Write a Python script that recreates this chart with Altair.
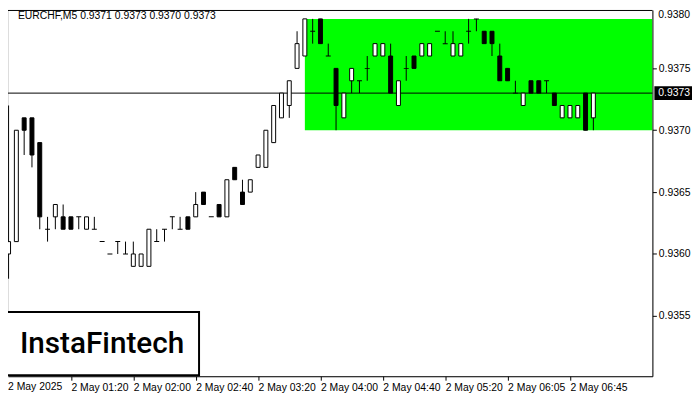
import json
import altair as alt
import pandas as pd

# ---------------- data ----------------
header_text = "EURCHF,M5  0.9371 0.9373 0.9370 0.9373"
logo_text = "InstaFintech"

opens = [0.9360, 0.9361, 0.9371, 0.9371, 0.9369, 0.9362, 0.9363, 0.9363, 0.9363, 0.9363,
         0.9362, 0.9362, 0.9361, 0.9360, 0.9361, 0.9360, 0.9359, 0.9359, 0.9359, 0.9361,
         0.9362, 0.9363, 0.9362, 0.9363, 0.9363, 0.9365, 0.9363, 0.9364, 0.9363, 0.9367,
         0.9365, 0.9365, 0.9367, 0.9367, 0.9369, 0.9371, 0.9372, 0.9375, 0.9376, 0.9378,
         0.9379, 0.9376, 0.9375, 0.9371, 0.9374, 0.9374, 0.9375, 0.9376, 0.9376, 0.9376,
         0.9372, 0.9375, 0.9376, 0.9376, 0.9376, 0.9378, 0.9377, 0.9376, 0.9376, 0.9378,
         0.9379, 0.9378, 0.9378, 0.9376, 0.9375, 0.9373, 0.9372, 0.9374, 0.9374, 0.9374,
         0.9373, 0.9371, 0.9371, 0.9371, 0.9373, 0.9371]
highs = [0.9372, 0.9370, 0.9371, 0.9371, 0.9369, 0.9363, 0.9364, 0.9364, 0.9363, 0.9363,
         0.9363, 0.9363, 0.9361, 0.9360, 0.9361, 0.9361, 0.9361, 0.9360, 0.9362, 0.9362,
         0.9362, 0.9363, 0.9363, 0.9363, 0.9365, 0.9365, 0.9363, 0.9364, 0.9366, 0.9367,
         0.9366, 0.9366, 0.9368, 0.9370, 0.9372, 0.9373, 0.9374, 0.9378, 0.9379, 0.9379,
         0.9379, 0.9377, 0.9375, 0.9373, 0.9375, 0.9374, 0.9376, 0.9377, 0.9377, 0.9377,
         0.9374, 0.9376, 0.9376, 0.9377, 0.9377, 0.9378, 0.9378, 0.9378, 0.9377, 0.9379,
         0.9379, 0.9378, 0.9378, 0.9377, 0.9375, 0.9374, 0.9373, 0.9374, 0.9374, 0.9374,
         0.9373, 0.9372, 0.9372, 0.9372, 0.9373, 0.9373]
lows = [0.9358, 0.9361, 0.9368, 0.9367, 0.9362, 0.9361, 0.9362, 0.9362, 0.9362, 0.9362,
        0.9362, 0.9362, 0.9361, 0.9360, 0.9360, 0.9360, 0.9359, 0.9359, 0.9359, 0.9361,
        0.9361, 0.9362, 0.9362, 0.9362, 0.9363, 0.9364, 0.9363, 0.9363, 0.9363, 0.9366,
        0.9364, 0.9365, 0.9367, 0.9367, 0.9369, 0.9371, 0.9371, 0.9375, 0.9376, 0.9377,
        0.9377, 0.9376, 0.9370, 0.9371, 0.9373, 0.9373, 0.9374, 0.9376, 0.9376, 0.9373,
        0.9372, 0.9374, 0.9375, 0.9376, 0.9376, 0.9378, 0.9377, 0.9376, 0.9376, 0.9377,
        0.9378, 0.9377, 0.9376, 0.9374, 0.9374, 0.9373, 0.9372, 0.9373, 0.9373, 0.9373,
        0.9372, 0.9371, 0.9371, 0.9371, 0.9370, 0.9370]
closes = [0.9361, 0.9370, 0.9370, 0.9368, 0.9363, 0.9362, 0.9364, 0.9362, 0.9362, 0.9363,
          0.9363, 0.9362, 0.9361, 0.9360, 0.9361, 0.9360, 0.9360, 0.9360, 0.9362, 0.9361,
          0.9362, 0.9363, 0.9362, 0.9362, 0.9364, 0.9364, 0.9363, 0.9363, 0.9366, 0.9366,
          0.9364, 0.9366, 0.9368, 0.9370, 0.9372, 0.9373, 0.9374, 0.9377, 0.9379, 0.9378,
          0.9377, 0.9376, 0.9372, 0.9373, 0.9375, 0.9374, 0.9375, 0.9377, 0.9377, 0.9373,
          0.9374, 0.9375, 0.9375, 0.9377, 0.9377, 0.9378, 0.9377, 0.9377, 0.9377, 0.9378,
          0.9379, 0.9377, 0.9377, 0.9374, 0.9374, 0.9373, 0.9373, 0.9373, 0.9373, 0.9374,
          0.9372, 0.9372, 0.9372, 0.9372, 0.9370, 0.9373]

tick_bars = [8, 16, 24, 32, 40, 48, 56, 64, 72]
tick_labels = ["2 May 01:20", "2 May 02:00", "2 May 02:40", "2 May 03:20", "2 May 04:00",
               "2 May 04:40", "2 May 05:20", "2 May 06:05", "2 May 06:45"]
first_label = "2 May 2025"
price_ticks = [0.9355, 0.9360, 0.9365, 0.9370, 0.9375]
top_price_tick = [0.9380]

zone_start_bar = [38]
zone_low = [0.9370]
zone_high = [0.9379]
last_price = [0.9373]

# ---------------- layout ----------------
W, H = 651, 370
X_DOM = [0.5625, 81.9375]
Y_DOM = [0.935012, 0.937972]
FONT = "Liberation Sans"

n = len(opens)
df = pd.DataFrame({"idx": list(range(n)), "o": opens, "h": highs, "l": lows, "c": closes})
df["kind"] = ["up" if round(c - o, 6) > 0 else ("down" if round(c - o, 6) < 0 else "doji")
              for o, c in zip(opens, closes)]

xs = alt.Scale(domain=X_DOM, nice=False, zero=False)
ys = alt.Scale(domain=Y_DOM, nice=False, zero=False)

label_arr = json.dumps([""] + tick_labels)
x_axis = alt.Axis(values=tick_bars, labelExpr=f"{label_arr}[round(datum.value/8)]",
                  orient="bottom", grid=False, title=None, domainColor="black", domainWidth=1,
                  tickColor="black", tickSize=4, labelAlign="left", labelBaseline="top",
                  labelPadding=2, labelFont=FONT, labelFontSize=10.5, labelColor="black",
                  labelOverlap=False, labelFlush=False, labelBound=False)
y_axis = alt.Axis(values=price_ticks, format=".4f", orient="right", grid=False, title=None,
                  domainColor="black", domainWidth=1, tickColor="black", tickSize=4,
                  labelPadding=2, labelFont=FONT, labelFontSize=10.5, labelColor="black",
                  labelOverlap=False)


def X(f):
    return alt.X(f, scale=xs, axis=x_axis)


def Y(f):
    return alt.Y(f, scale=ys, axis=y_axis)


base = alt.Chart(df)

zone = alt.Chart(pd.DataFrame({"s": zone_start_bar, "lo": zone_low, "hi": zone_high})).mark_rect(
    color="#00FF00", clip=True).encode(
    x=X("s:Q"), x2=alt.value(W), y=Y("lo:Q"), y2="hi:Q")

pline = alt.Chart(pd.DataFrame({"p": last_price})).mark_rule(color="black", strokeWidth=1).encode(
    y=Y("p:Q"), x=alt.value(0), x2=alt.value(W))

wicks = base.mark_rule(color="black", strokeWidth=1, clip=True).encode(
    x=X("idx:Q"), y=Y("l:Q"), y2="h:Q")

bodies = base.transform_filter("datum.kind != 'doji'").mark_bar(
    size=4, stroke="black", strokeWidth=1, clip=True).encode(
    x=X("idx:Q"), y=Y("o:Q"), y2="c:Q",
    fill=alt.Fill("kind:N", scale=alt.Scale(domain=["up", "down"], range=["white", "black"]),
                  legend=None))

dojis = base.transform_filter("datum.kind == 'doji'").mark_tick(
    orient="horizontal", size=5, thickness=1, color="black", opacity=1, clip=True).encode(
    x=X("idx:Q"), y=Y("o:Q"))

one = pd.DataFrame({"a": [0]})

top_border = alt.Chart(one).mark_rule(color="black", strokeWidth=1).encode(
    y=alt.value(0.5), x=alt.value(0), x2=alt.value(W))

top_label = alt.Chart(pd.DataFrame({"p": top_price_tick})).mark_text(
    align="left", baseline="top", dy=4, font=FONT, fontSize=10.5, color="black").encode(
    x=alt.value(W + 6), y=Y("p:Q"), text=alt.Text("p:Q", format=".4f"))

header = alt.Chart(one).mark_text(align="left", baseline="middle", font=FONT, fontSize=10.5,
                                  color="black", text=header_text).encode(
    x=alt.value(10), y=alt.value(6))

first_lab = alt.Chart(one).mark_text(align="left", baseline="top", font=FONT, fontSize=10.5,
                                     color="black", text=first_label).encode(
    x=alt.value(0), y=alt.value(H + 6))

logo_box = alt.Chart(one).mark_rect(fill="white", stroke="black", strokeWidth=2).encode(
    x=alt.value(-2), x2=alt.value(193), y=alt.value(305), y2=alt.value(369))

logo = alt.Chart(one).mark_text(align="left", baseline="middle", font="Roboto", fontSize=30,
                                fontWeight=500, color="black", text=logo_text).encode(
    x=alt.value(12), y=alt.value(338))

pbox = alt.Chart(pd.DataFrame({"p": last_price})).transform_calculate(
    p1="datum.p + 0.000056", p2="datum.p - 0.000056").mark_rect(color="black").encode(
    x=alt.value(W + 2), x2=alt.value(W + 40), y=Y("p1:Q"), y2="p2:Q")

ptext = alt.Chart(pd.DataFrame({"p": last_price})).mark_text(
    align="left", baseline="middle", font=FONT, fontSize=10.5, color="white").encode(
    x=alt.value(W + 6), y=Y("p:Q"), text=alt.Text("p:Q", format=".4f"))

chart = alt.layer(zone, pline, wicks, bodies, dojis, top_border, top_label, header, first_lab,
                  logo_box, logo, pbox, ptext).properties(
    width=W, height=H,
    autosize=alt.AutoSizeParams(type="none"),
    padding={"left": 0, "top": 0, "right": 40, "bottom": 20},
).configure_view(strokeWidth=0, stroke="transparent").configure(background="white")

chart.save("out.html", embed_options={"renderer": "svg", "actions": False})
